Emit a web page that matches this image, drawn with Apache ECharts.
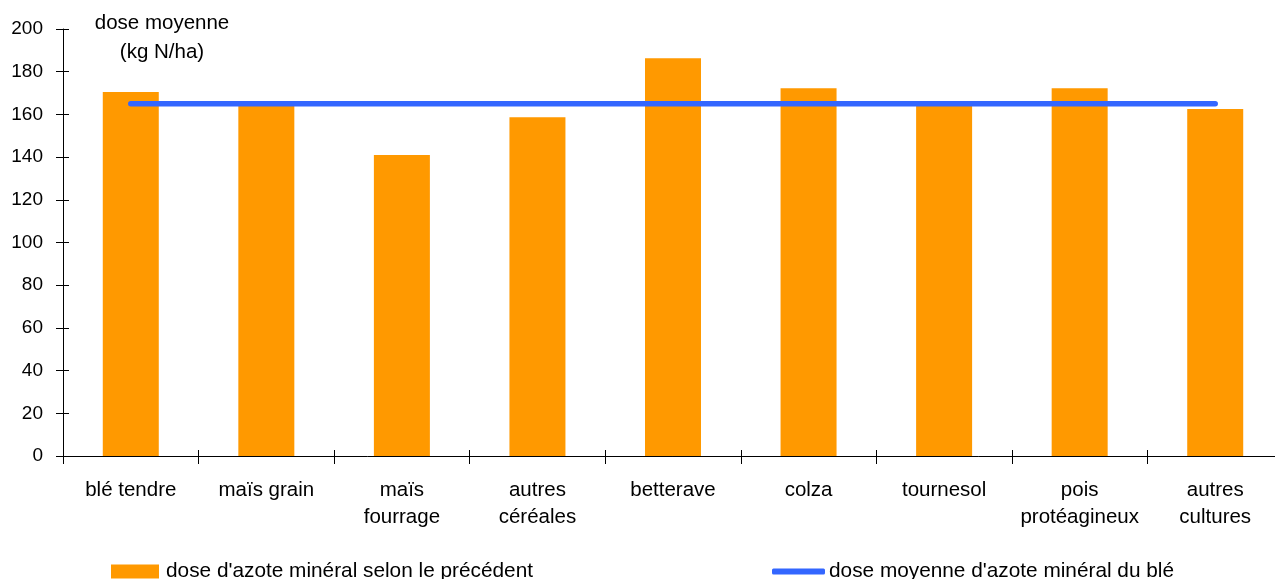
<!DOCTYPE html>
<html lang="fr">
<head>
    <meta charset="UTF-8">
    <title>Dose d'azote minéral</title>
    <script src="https://cdn.jsdelivr.net/npm/echarts@6/dist/echarts.min.js"></script>
    <style>
        * { margin: 0; padding: 0; box-sizing: border-box; }
        body { background: #fff; overflow: hidden; }
        /* le graphique déborde un peu à droite, comme l'original */
        #chart { width: 1283px; height: 579px; }
    </style>
</head>
<body>
    <div id="chart"></div>

    <script>
        // données
        const categories = ['blé tendre', 'maïs grain', 'maïs\nfourrage', 'autres\ncéréales', 'betterave',
            'colza', 'tournesol', 'pois\nprotéagineux', 'autres\ncultures'];
        const doseSelonPrecedent = [170.5, 164.5, 141, 158.7, 186.3, 172.2, 164.5, 172.2, 162.5];
        const doseMoyenneBle = [165, 165, 165, 165, 165, 165, 165, 165, 165];
        const yTicks = { min: 0, max: 200, interval: 20 };

        const font = '"Liberation Sans", Arial, sans-serif';
        const chart = echarts.init(document.getElementById('chart'));

        const option = {
            animation: false,
            textStyle: { fontFamily: font },
            title: {
                text: 'dose moyenne\n(kg N/ha)',
                left: 157,
                top: 4,
                textAlign: 'center',
                textStyle: { fontSize: 20.5, fontWeight: 'normal', color: '#000', lineHeight: 29, fontFamily: font }
            },
            legend: [
                {
                    data: [{ name: "dose d'azote minéral selon le précédent", icon: 'rect' }],
                    left: 106,
                    top: 556,
                    itemWidth: 48,
                    itemHeight: 14,
                    textStyle: { fontSize: 20.8, color: '#000', fontFamily: font, padding: [0, 0, 0, 2] }
                },
                {
                    data: [{ name: "dose moyenne d'azote minéral du blé", icon: 'roundRect' }],
                    left: 767,
                    top: 556,
                    itemWidth: 53,
                    itemHeight: 6,
                    textStyle: { fontSize: 20.8, color: '#000', fontFamily: font, padding: [0, 0, 0, -1] }
                }
            ],
            grid: { left: 63, top: 29, bottom: 123, right: 0 },
            xAxis: [
                {
                    type: 'category',
                    data: categories,
                    axisLine: { lineStyle: { color: '#000', width: 1 } },
                    axisTick: { show: true, interval: 0, length: 8, lineStyle: { color: '#000' } },
                    axisLabel: { interval: 0, fontSize: 20.5, color: '#000', lineHeight: 27, margin: 21, fontFamily: font }
                },
                {
                    type: 'category',
                    data: categories,
                    position: 'bottom',
                    axisLine: { show: false },
                    axisTick: { show: true, interval: 0, inside: true, length: 6, lineStyle: { color: '#000' } },
                    axisLabel: { show: false }
                }
            ],
            yAxis: [
                {
                    type: 'value',
                    min: yTicks.min,
                    max: yTicks.max,
                    interval: yTicks.interval,
                    axisLine: { show: true, lineStyle: { color: '#000', width: 1 } },
                    axisTick: { show: true, length: 7, lineStyle: { color: '#000' } },
                    axisLabel: { fontSize: 19, color: '#000', margin: 20, fontFamily: font },
                    splitLine: { show: false }
                },
                {
                    type: 'value',
                    position: 'left',
                    min: yTicks.min,
                    max: yTicks.max,
                    interval: yTicks.interval,
                    axisLine: { show: false },
                    axisTick: { show: true, inside: true, length: 6, lineStyle: { color: '#000' } },
                    axisLabel: { show: false },
                    splitLine: { show: false }
                }
            ],
            series: [
                {
                    name: "dose d'azote minéral selon le précédent",
                    type: 'bar',
                    data: doseSelonPrecedent,
                    barWidth: 56,
                    itemStyle: { color: '#FF9900' }
                },
                {
                    name: "dose moyenne d'azote minéral du blé",
                    type: 'line',
                    data: doseMoyenneBle,
                    symbol: 'none',
                    lineStyle: { color: '#3366FF', width: 5.5, cap: 'round' },
                    itemStyle: { color: '#3366FF' }
                }
            ]
        };
        chart.setOption(option);
    </script>
</body>
</html>
